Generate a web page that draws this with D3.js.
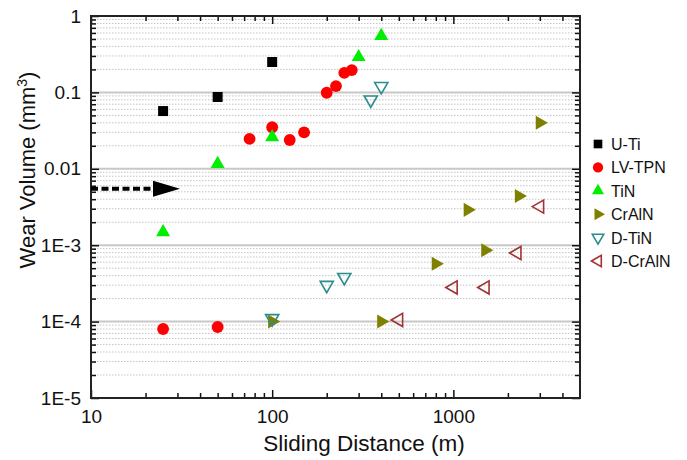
<!DOCTYPE html>
<html>
<head>
<meta charset="utf-8">
<script src="https://cdn.jsdelivr.net/npm/d3@7"></script>
<style>
  body { margin: 0; background: #fff; }
  text { font-family: "Liberation Sans", Arial, sans-serif; fill: #111; }
</style>
</head>
<body>
<svg id="chart" width="687" height="460"></svg>
<script>
// data (distance in m, volume in mm3)
const seriesNames = ['U-Ti', 'LV-TPN', 'TiN', 'CrAlN', 'D-TiN', 'D-CrAlN'];

const uTiX = [25, 50, 100];
const uTiY = [0.057, 0.087, 0.25];

const lvTpnX = [25, 50, 75, 100, 125, 150, 200, 225, 250, 275];
const lvTpnY = [8e-5, 8.5e-5, 0.0246, 0.035, 0.0238, 0.030, 0.099, 0.121, 0.18, 0.196];

const tinX = [25, 50, 100, 300, 400];
const tinY = [0.00148, 0.0116, 0.026, 0.29, 0.55];

const crAlnX = [100, 400, 800, 1200, 1500, 2300, 3000];
const crAlnY = [1e-4, 1e-4, 5.7e-4, 0.0029, 8.6e-4, 0.0044, 0.040];

const dTinX = [100, 200, 250, 350, 400];
const dTinY = [1.1e-4, 3.0e-4, 3.8e-4, 0.08, 0.12];

const dCrAlnX = [500, 1000, 1500, 2250, 3000];
const dCrAlnY = [1.05e-4, 2.8e-4, 2.8e-4, 7.9e-4, 0.0032];

// dashed arrow annotation (data units)
const arrowX = [10, 31];
const arrowY = 0.0055;

const xTicks = [10, 100, 1000];
const xTickLabels = ['10', '100', '1000'];
const yTicks = [1, 0.1, 0.01, 1e-3, 1e-4, 1e-5];
const yTickLabels = ['1', '0.1', '0.01', '1E-3', '1E-4', '1E-5'];

const svg = d3.select('#chart'),
    margin = {top: 16, right: 107, bottom: 62, left: 91},
    width = +svg.attr('width') - margin.left - margin.right,
    height = +svg.attr('height') - margin.top - margin.bottom;

const x = d3.scaleLog().domain([10, 5000]).range([0, width]);
const y = d3.scaleLog().domain([1e-5, 1]).range([height, 0]);

const g = svg.append('g')
    .attr('transform', 'translate(' + margin.left + ',' + margin.top + ')');

// minor values
const xMinor = [], yMinor = [];
[10, 100, 1000].forEach(d => { for (let k = 2; k <= 9; k++) if (d * k < 5000) xMinor.push(d * k); });
[1e-5, 1e-4, 1e-3, 0.01, 0.1].forEach(d => { for (let k = 2; k <= 9; k++) yMinor.push(d * k); });

// grid lines
g.append('g').selectAll('line').data(yMinor).enter().append('line')
    .attr('x1', 0).attr('x2', width)
    .attr('y1', d => y(d)).attr('y2', d => y(d))
    .attr('stroke', '#c4c4c4').attr('stroke-width', 1).attr('stroke-dasharray', '1.5,1.5');
g.append('g').selectAll('line').data(yTicks.slice(1, -1)).enter().append('line')
    .attr('x1', 0).attr('x2', width)
    .attr('y1', d => y(d)).attr('y2', d => y(d))
    .attr('stroke', '#c8c8c8').attr('stroke-width', 2);

// axes with inward ticks
function styleAxis(sel) {
    sel.select('.domain').remove();
    sel.selectAll('line').attr('stroke', '#111').attr('stroke-width', 1.5);
    sel.selectAll('text').style('font-size', '19px').attr('fill', '#111');
}
g.append('g').attr('transform', 'translate(0,' + height + ')')
    .call(d3.axisBottom(x).tickValues(xTicks).tickSize(-8).tickPadding(12)
        .tickFormat((d, i) => xTickLabels[i])).call(styleAxis);
g.append('g').attr('transform', 'translate(0,' + height + ')')
    .call(d3.axisBottom(x).tickValues(xMinor).tickSize(-5).tickFormat('')).call(styleAxis);
g.append('g')
    .call(d3.axisTop(x).tickValues(xTicks).tickSize(-8).tickFormat('')).call(styleAxis);
g.append('g')
    .call(d3.axisTop(x).tickValues(xMinor).tickSize(-5).tickFormat('')).call(styleAxis);
g.append('g')
    .call(d3.axisLeft(y).tickValues(yTicks).tickSize(-8).tickPadding(10)
        .tickFormat((d, i) => yTickLabels[i])).call(styleAxis);
g.append('g')
    .call(d3.axisLeft(y).tickValues(yMinor).tickSize(-5).tickFormat('')).call(styleAxis);
g.append('g').attr('transform', 'translate(' + width + ',0)')
    .call(d3.axisRight(y).tickValues(yTicks).tickSize(-8).tickFormat('')).call(styleAxis);
g.append('g').attr('transform', 'translate(' + width + ',0)')
    .call(d3.axisRight(y).tickValues(yMinor).tickSize(-5).tickFormat('')).call(styleAxis);

// frame
g.append('rect').attr('width', width).attr('height', height)
    .attr('fill', 'none').attr('stroke', '#222').attr('stroke-width', 2);

// axis titles
svg.append('text')
    .attr('x', 364).attr('y', 451)
    .attr('text-anchor', 'middle').style('font-size', '22.5px')
    .text('Sliding Distance (m)');
const yt = svg.append('text')
    .attr('transform', 'translate(35,170) rotate(-90)')
    .attr('text-anchor', 'middle').style('font-size', '22px');
yt.append('tspan').text('Wear Volume (mm');
yt.append('tspan').attr('dy', -8).style('font-size', '14px').text('3');
yt.append('tspan').attr('dy', 8).text(')');

// arrow annotation
g.append('line')
    .attr('x1', x(arrowX[0])).attr('x2', x(arrowX[1]) - 25)
    .attr('y1', y(arrowY)).attr('y2', y(arrowY))
    .attr('stroke', '#000').attr('stroke-width', 4).attr('stroke-dasharray', '7,3.5');
g.append('path')
    .attr('d', 'M' + (x(arrowX[1]) - 27) + ',' + (y(arrowY) - 8) +
        'L' + x(arrowX[1]) + ',' + y(arrowY) +
        'L' + (x(arrowX[1]) - 27) + ',' + (y(arrowY) + 8) + 'Z')
    .attr('fill', '#000');

// series
const series = [
    {name: seriesNames[0], xs: uTiX, ys: uTiY, type: d3.symbolSquare, size: 100, rot: 0, color: '#000', open: false},
    {name: seriesNames[1], xs: lvTpnX, ys: lvTpnY, type: d3.symbolCircle, size: 110, rot: 0, color: '#ff0000', open: false},
    {name: seriesNames[2], xs: tinX, ys: tinY, type: d3.symbolTriangle, size: 85, rot: 0, color: '#00ee00', open: false},
    {name: seriesNames[3], xs: crAlnX, ys: crAlnY, type: d3.symbolTriangle, size: 85, rot: 90, color: '#808000', open: false},
    {name: seriesNames[4], xs: dTinX, ys: dTinY, type: d3.symbolTriangle, size: 75, rot: 180, color: '#2a8c8c', open: true},
    {name: seriesNames[5], xs: dCrAlnX, ys: dCrAlnY, type: d3.symbolTriangle, size: 75, rot: -90, color: '#a33232', open: true}
];

series.forEach(s => {
    const sym = d3.symbol().type(s.type).size(s.size);
    g.append('g').selectAll('path')
        .data(s.xs.map((v, i) => [v, s.ys[i]]))
        .enter().append('path')
        .attr('d', sym)
        .attr('transform', d => 'translate(' + x(d[0]) + ',' + y(d[1]) + ') rotate(' + s.rot + ')')
        .attr('fill', s.open ? 'none' : s.color)
        .attr('stroke', s.open ? s.color : 'none')
        .attr('stroke-width', 1.6);
});

// legend
const legend = svg.append('g').attr('transform', 'translate(598,144)');
series.forEach((s, i) => {
    const row = legend.append('g').attr('transform', 'translate(0,' + (i * 23.4) + ')');
    row.append('path')
        .attr('d', d3.symbol().type(s.type).size(s.size * 0.75))
        .attr('transform', 'rotate(' + s.rot + ')')
        .attr('fill', s.open ? 'none' : s.color)
        .attr('stroke', s.open ? s.color : 'none')
        .attr('stroke-width', 1.6);
    row.append('text').attr('x', 13).attr('y', 6)
        .style('font-size', '16px').text(s.name);
});
</script>
</body>
</html>
